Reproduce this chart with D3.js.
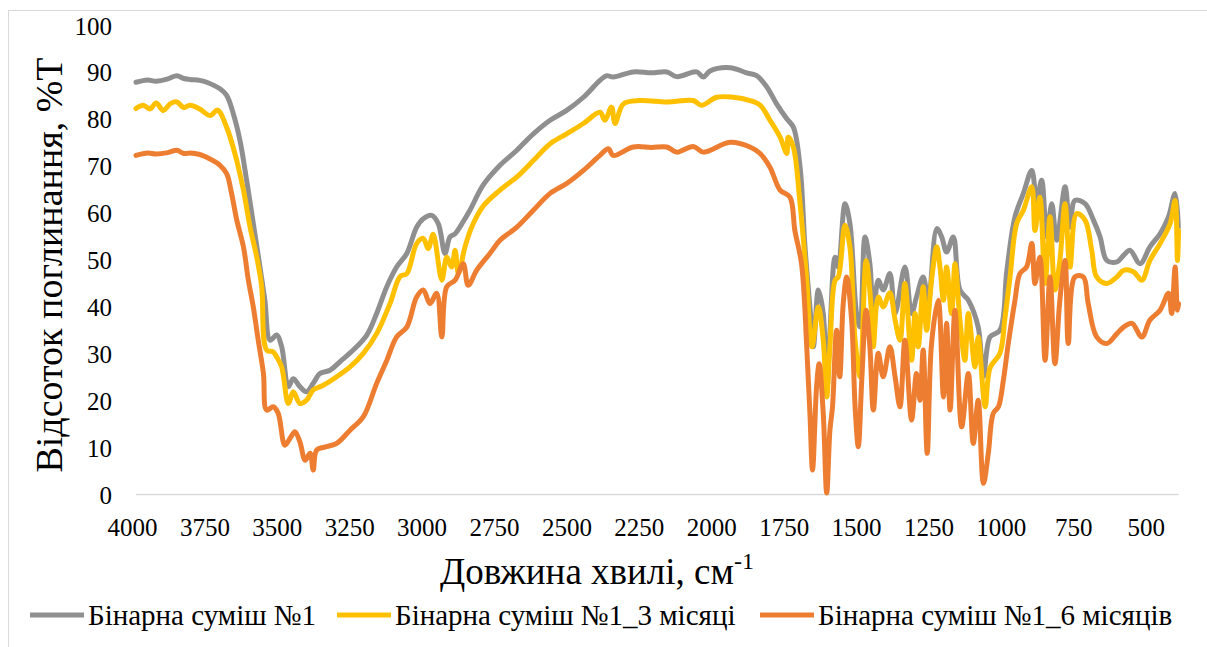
<!DOCTYPE html>
<html><head><meta charset="utf-8">
<script src="https://cdn.jsdelivr.net/npm/d3@7"></script>
<style>
html,body{margin:0;padding:0;background:#fff;}
svg{display:block;}
svg text{font-family:"Liberation Serif","Times New Roman",serif;}
</style></head>
<body><svg id="chart" width="1207" height="647"></svg>
<script>
const seriesNames = ["Бінарна суміш №1", "Бінарна суміш №1_3 місяці", "Бінарна суміш №1_6 місяців"];
const seriesColors = ["#8f8f8f", "#ffc000", "#ed7d31"];
const xTicks = [4000,3750,3500,3250,3000,2750,2500,2250,2000,1750,1500,1250,1000,750,500];
const yTicks = [0,10,20,30,40,50,60,70,80,90,100];

const grayWn = [4000,3960,3931,3890,3859,3835,3814,3780,3756,3710,3687,3664,3641,3618,3595,3572,3555,3537,3514,3497,3474,3457,3434,3411,3388,3365,3330,3296,3250,3203,3169,3134,3100,3065,3031,3008,2979,2956,2933,2916,2898,2875,2847,2801,2743,2685,2628,2570,2513,2455,2398,2375,2352,2283,2220,2167,2133,2064,2041,2018,1949,1891,1857,1822,1788,1753,1730,1707,1690,1673,1661,1644,1627,1615,1604,1586,1575,1552,1535,1512,1500,1483,1466,1454,1437,1420,1397,1379,1345,1322,1305,1282,1264,1235,1218,1201,1178,1155,1126,1092,1074,1051,1017,993,965,936,907,890,873,855,838,821,792,775,758,723,694,671,648,613,590,568,533,499,464,435,412,401];
const grayT = [87.9,88.4,88.1,88.6,89.3,88.7,88.5,88.3,87.9,86.5,85.1,81.2,75.5,67,57.8,48.5,41.4,32.9,34,31.5,23,24.7,23,21.9,23.7,25.8,26.5,28.3,30.8,34,38.6,44.3,48.5,51.4,57,58.8,59.5,57.7,51.4,54.9,55.6,57.7,60.6,66,70.2,73.4,76.9,79.8,81.9,84.7,88.3,89.3,89,90.1,89.9,90.1,89.1,90.1,89,90.3,91,89.9,89.3,86.9,83.3,80.1,78.3,69.8,52.8,40,31.5,43.6,38.6,22,34.4,50.6,48.5,62,57.8,38.6,35.7,54.9,49.2,38.6,45.7,43.6,47.1,38.6,48.5,38.6,42.1,46.4,41.4,56.7,54.9,51.7,54.9,43.6,41.4,35.7,25.1,33.6,35,47.8,59.2,64.2,69.1,62.7,67,54.9,62,54.2,65.6,57,62.7,62,58.5,54.9,49.9,49.6,51,52.1,49.2,52.8,55.6,59.2,64.2,57];

const yellowWn = [4000,3975,3952,3930,3906,3880,3859,3835,3814,3780,3744,3720,3710,3687,3675,3652,3629,3606,3583,3566,3549,3526,3514,3497,3474,3457,3434,3411,3388,3353,3307,3261,3215,3169,3123,3088,3065,3031,3008,2991,2974,2944,2927,2910,2898,2887,2864,2841,2801,2743,2685,2628,2570,2513,2455,2398,2381,2358,2346,2317,2260,2167,2076,2047,1995,1938,1880,1845,1811,1776,1753,1748,1730,1707,1684,1666,1644,1627,1615,1604,1586,1575,1552,1535,1517,1500,1479,1460,1454,1437,1420,1397,1379,1362,1345,1322,1310,1299,1282,1270,1253,1235,1224,1212,1201,1184,1172,1155,1138,1126,1103,1092,1068,1051,1017,999,982,959,936,907,896,879,861,844,827,810,792,775,752,723,700,683,648,613,590,556,527,499,464,429,412,404,400];
const yellowT = [82.3,83,82.2,83.5,81.9,83.4,83.7,82.5,83,82.2,80.8,82,81.5,78.3,76.2,71.2,64.9,57,50.6,44.3,30.8,30.4,29.3,27.2,19.4,21.9,19.4,20.1,22.3,23.3,25.1,27.2,30.1,34.3,40.7,46.5,47.1,53.5,54.6,52.4,55.5,45.7,50.6,48.5,52.1,47.1,52.8,57,61.5,64.9,67.7,71.2,74.8,76.9,79.1,81.5,79.8,82.6,79.1,83.3,84,83.7,84,83,84.7,84.7,84,83,79.8,76.2,72.7,76.2,74,62,45.7,31.5,40,32.9,20.8,31.5,45.7,46.4,57.4,52.8,32.9,25.1,49.9,38.6,31.5,42.1,40,43,37.2,32.9,45,28.6,38.6,31.5,44.3,35,45.7,52.8,48.5,41.4,48.5,38.6,49.2,37.2,28.6,38.6,27.2,33.6,18.7,27,30.1,37.9,46.4,57.8,60.6,65.6,56.3,63.4,45,59.2,43.6,49.9,62,48.5,59.9,58.5,52.1,46.4,45,46.4,47.8,47.5,45.7,49.9,53.5,57.8,62.7,49.9,56.3];

const orangeWn = [4000,3960,3931,3890,3859,3835,3814,3780,3756,3710,3687,3670,3652,3629,3612,3595,3578,3560,3549,3526,3509,3486,3468,3451,3434,3416,3399,3388,3376,3342,3307,3261,3215,3169,3134,3100,3065,3031,3008,2985,2962,2944,2927,2898,2870,2853,2824,2778,2743,2685,2628,2570,2513,2455,2398,2369,2352,2283,2220,2167,2133,2076,2041,1949,1880,1845,1811,1776,1742,1725,1702,1684,1673,1664,1650,1641,1627,1615,1604,1595,1581,1570,1558,1546,1529,1517,1506,1494,1479,1466,1454,1437,1420,1397,1379,1362,1345,1322,1305,1293,1282,1268,1253,1230,1212,1201,1189,1172,1149,1126,1109,1092,1074,1057,1040,1022,1005,988,965,948,925,907,896,879,861,844,827,810,792,781,758,729,712,683,648,613,590,561,527,499,464,435,424,412,404,400];
const orangeT = [72.3,72.8,72.6,72.9,73.4,72.7,72.8,72.5,71.9,70.2,68.4,64.2,58.5,52.8,45.7,40,32.9,25.8,18,18.7,17.3,10.5,12,13.4,11.2,7.3,8.8,5.2,9.5,10.2,10.9,13.7,16.6,23.7,28.6,33.6,35.7,42.1,43.6,40.7,42.9,33.6,44.3,45.7,49.2,44.6,47.8,51.4,54.2,57,60.6,64.2,66.3,69.1,72.3,73.7,72.3,74.1,74,74.1,73,74.2,73,75.1,74.1,72.7,69.8,64.9,63.4,56.3,49.2,31.5,17.3,5.2,23,27.9,17.3,0.3,13.7,18.7,35,25.1,40.7,46.4,37.2,18.7,10.2,24.4,39.3,31.5,18,30.1,25.1,31.5,25.1,18.7,32.9,15.9,25.8,20.1,30.8,8.8,32.2,41.4,20.8,36.5,18,39.3,14.4,25.8,10.9,20.1,2.4,8.8,17.3,18.7,24.4,32.2,41.4,47.1,48.5,53.5,45,50.6,28.6,46.4,27.9,41.4,49.9,32.2,46.4,46.4,40.7,33.6,32.2,34.3,35.7,36.5,33.6,37.2,39.3,42.9,38.6,48.5,39.3,40.7];

const FONT = "'Liberation Serif','Times New Roman',serif";
const svg = d3.select("#chart");

// outer chart border
svg.append("rect").attr("x", 8.5).attr("y", 10.5).attr("width", 1220).attr("height", 660)
  .attr("fill", "none").attr("stroke", "#d9d9d9").attr("stroke-width", 1);

const x = d3.scaleLinear().domain([4000, 400]).range([136, 1178.6]);
const y = d3.scaleLinear().domain([0, 100]).range([494.5, 25.5]);

// baseline
svg.append("line").attr("x1", x(4000)).attr("x2", x(400)).attr("y1", y(0)).attr("y2", y(0))
  .attr("stroke", "#d9d9d9").attr("stroke-width", 1.5);

// axes
const xAxis = svg.append("g").attr("transform", `translate(0,${y(0)})`)
  .call(d3.axisBottom(x).tickValues(xTicks).tickSize(0).tickPadding(0).tickFormat(d3.format("d")))
  .attr("font-family", FONT);
xAxis.select(".domain").remove();
xAxis.selectAll("text").attr("dy", null).attr("y", 41).attr("x", -4)
  .attr("font-size", 25).attr("fill", "#000").attr("font-family", FONT);

const yAxis = svg.append("g").attr("transform", `translate(112,0)`)
  .call(d3.axisLeft(y).tickValues(yTicks).tickSize(0).tickPadding(0))
  .attr("font-family", FONT);
yAxis.select(".domain").remove();
yAxis.selectAll("text").attr("dy", "0.34em").attr("font-size", 25).attr("fill", "#000")
  .attr("font-family", FONT);

// lines
const line = d3.line().x(d => x(d[0])).y(d => y(d[1])).curve(d3.curveCatmullRom.alpha(0.5));
const data = [
  d3.zip(grayWn, grayT),
  d3.zip(yellowWn, yellowT),
  d3.zip(orangeWn, orangeT)
];
svg.append("g").selectAll("path").data(data).join("path")
  .attr("d", line).attr("fill", "none")
  .attr("stroke", (d, i) => seriesColors[i]).attr("stroke-width", 5)
  .attr("stroke-linejoin", "round").attr("stroke-linecap", "round");

// axis titles
const xt = svg.append("text").attr("x", 597).attr("y", 584).attr("text-anchor", "middle")
  .attr("font-size", 37).attr("fill", "#000").attr("font-family", FONT);
xt.append("tspan").text("Довжина хвилі, см");
xt.append("tspan").attr("font-size", 24).attr("dy", -15).text("-1");

svg.append("text").attr("transform", "translate(62,265) rotate(-90)").attr("text-anchor", "middle")
  .attr("font-size", 38).attr("fill", "#000").attr("font-family", FONT)
  .text("Відсоток поглинання, %T");

// legend
const legX = [30, 337, 760];
const leg = svg.append("g");
seriesNames.forEach((n, i) => {
  leg.append("line").attr("x1", legX[i]).attr("x2", legX[i] + 54).attr("y1", 615).attr("y2", 615)
    .attr("stroke", seriesColors[i]).attr("stroke-width", 5);
  leg.append("text").attr("x", legX[i] + 58).attr("y", 615).attr("dy", "0.34em")
    .attr("font-size", 29).attr("fill", "#000").attr("font-family", FONT).text(n);
});
</script></body></html>
